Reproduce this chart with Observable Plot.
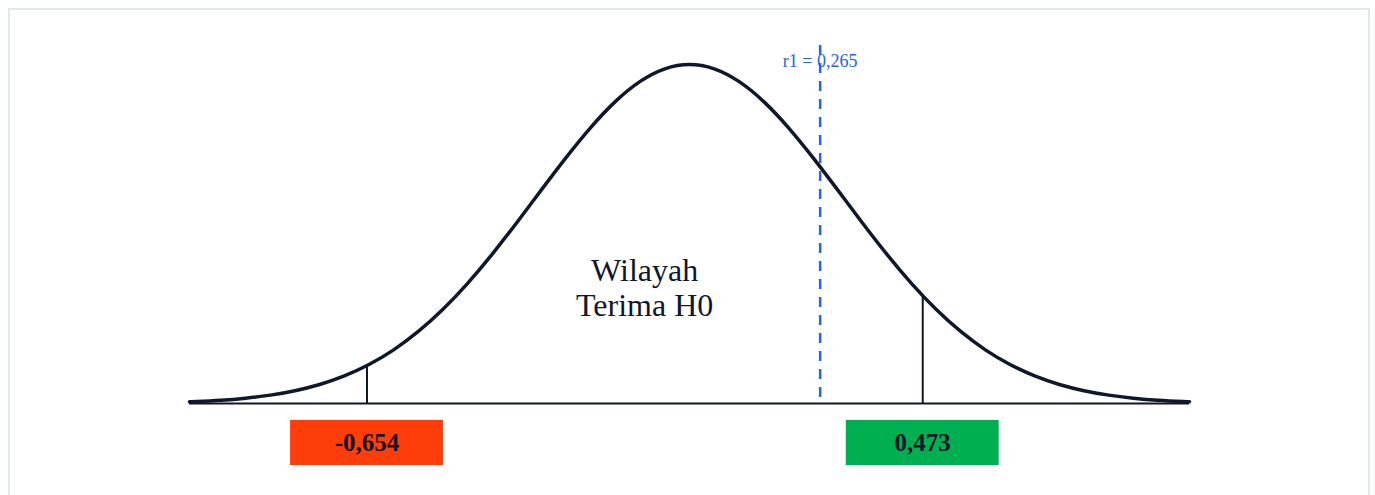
<!DOCTYPE html>
<html>
<head>
<meta charset="utf-8">
<script src="https://cdn.jsdelivr.net/npm/d3@7"></script>
<script src="https://cdn.jsdelivr.net/npm/@observablehq/plot@0.6"></script>
<style>
  html, body { margin: 0; padding: 0; background: #ffffff; overflow: hidden; }
  #frame { position: absolute; left: 8px; top: 8px; width: 1362px; height: 520px; border: 2px solid #e2e8f0; box-sizing: border-box; }
  #chart { position: absolute; left: 0; top: 0; }
</style>
</head>
<body>
<div id="frame"></div>
<div id="chart"></div>
<script>
// Curve positions (r units) and relative heights
const curveX = [-1.014, -1.0, -0.95, -0.9, -0.85, -0.8, -0.75, -0.7, -0.65, -0.6, -0.55, -0.5, -0.45, -0.4, -0.35, -0.3, -0.25, -0.2, -0.15, -0.1, -0.05, 0,
                 0.05, 0.1, 0.15, 0.2, 0.25, 0.3, 0.35, 0.4, 0.45, 0.5, 0.55, 0.6, 0.65, 0.7, 0.75, 0.8, 0.85, 0.9, 0.95, 1.0, 1.014];
const curveY = [0.0052, 0.0060, 0.0098, 0.0158, 0.0247, 0.0378, 0.0561, 0.0814, 0.1150, 0.1583, 0.2125, 0.2780, 0.3546, 0.4408, 0.5341, 0.6308, 0.7261, 0.8148, 0.8912, 0.9501, 0.9873, 1.0,
                0.9873, 0.9501, 0.8912, 0.8148, 0.7261, 0.6308, 0.5341, 0.4408, 0.3546, 0.2780, 0.2125, 0.1583, 0.1150, 0.0814, 0.0561, 0.0378, 0.0247, 0.0158, 0.0098, 0.0060, 0.0052];

// Critical values
const critValues = [-0.654, 0.473];
const critHeights = [0.112, 0.319];
const critLabels = ["-0,654", "0,473"];
const critColors = ["#ff3d0a", "#00b050"];

// Observed statistic
const r1Value = 0.265;
const r1Label = "r1 = 0,265";

// Region label
const regionLabel = "Wilayah\nTerima H0";
const regionX = -0.091;
const regionY = 0.344;

const curve = curveX.map((x, i) => ({x, y: curveY[i]}));
const crit = critValues.map((v, i) => ({v, h: critHeights[i], label: critLabels[i], color: critColors[i]}));

const serif = "'Liberation Serif', 'Times New Roman', 'DejaVu Serif', serif";
const dark = "#0f172a";
const blue = "#2563eb";
const boxHalf = 0.155;

const chart = Plot.plot({
  width: 1375,
  height: 495,
  marginLeft: 189,
  marginRight: 186,
  marginTop: 64,
  marginBottom: 92,
  x: {domain: [-1.014, 1.014], axis: null},
  y: {domain: [0, 1], axis: null},
  style: {background: "transparent", fontFamily: serif},
  marks: [
    Plot.ruleY([0], {stroke: dark, strokeWidth: 2}),
    Plot.ruleX(crit, {x: "v", y1: 0, y2: "h", stroke: dark, strokeWidth: 2}),
    Plot.line(curve, {x: "x", y: "y", stroke: dark, strokeWidth: 3.5, curve: "natural"}),
    Plot.text([regionLabel], {x: regionX, y: regionY, text: d => d, fontSize: 32, lineHeight: 1.1, fill: dark, fontFamily: serif}),
    Plot.text([r1Label], {x: r1Value, y: 1.0097, text: d => d, fontSize: 18, fill: blue, fontFamily: serif}),
    Plot.ruleX([r1Value], {x: d => d, y1: 1.056, y2: 0.008, stroke: blue, strokeWidth: 2.5, strokeDasharray: "10,8"}),
    Plot.rect(crit, {x1: d => d.v - boxHalf, x2: d => d.v + boxHalf, y1: -0.050, y2: -0.183, fill: "color"}),
    Plot.text(crit, {x: "v", y: -0.1165, text: "label", fontSize: 25, fontWeight: "bold", fill: dark, fontFamily: serif})
  ]
});
document.getElementById("chart").appendChild(chart);
</script>
</body>
</html>
